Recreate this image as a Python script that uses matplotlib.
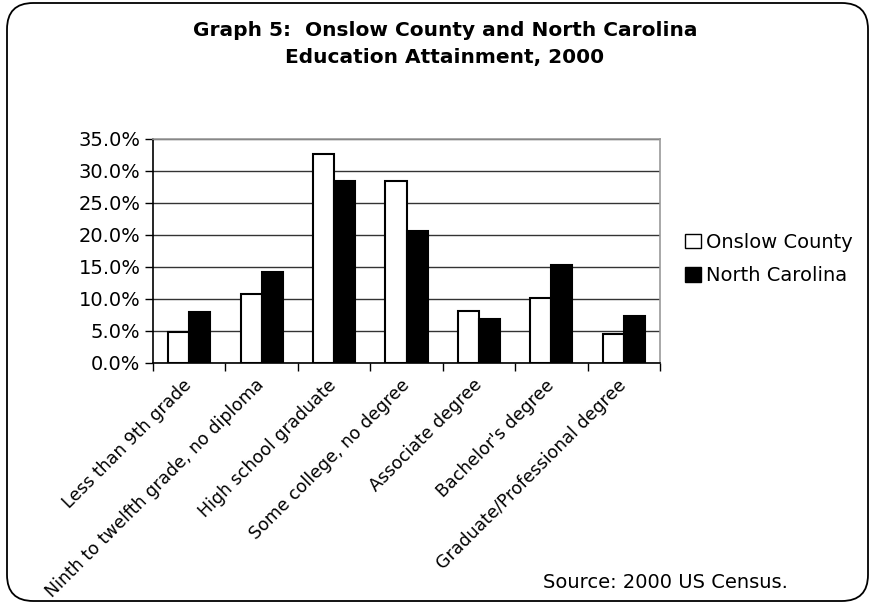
import numpy as np
import matplotlib
matplotlib.use("Agg")
import matplotlib.pyplot as plt
import matplotlib.transforms as mtransforms
from matplotlib.patches import FancyBboxPatch, Patch
from matplotlib.ticker import PercentFormatter, FixedLocator

categories = ["Less than 9th grade", "Ninth to twelfth grade, no diploma",
              "High school graduate", "Some college, no degree",
              "Associate degree", "Bachelor's degree",
              "Graduate/Professional degree"]
onslow = [4.8, 10.8, 32.7, 28.5, 8.2, 10.2, 4.5]
nc = [8.0, 14.2, 28.5, 20.6, 6.8, 15.3, 7.4]

plt.rcParams['font.family'] = ['DejaVu Sans']

fig = plt.figure(figsize=(8.73, 6.05), dpi=100)
ax = fig.add_axes([153 / 873, 1 - 363 / 605, 507 / 873, 224 / 605])

# outer rounded frame
frame = FancyBboxPatch((7 / 873, 4 / 605), 861 / 873, 598 / 605,
                       boxstyle="round,pad=0,rounding_size=0.03",
                       transform=fig.transFigure, fill=False,
                       edgecolor='black', linewidth=1.3, zorder=0,
                       mutation_aspect=873 / 605)
fig.patches.append(frame)

x = np.arange(len(categories))
w = 0.29
ax.bar(x - w / 2, onslow, w, color='white', edgecolor='black', linewidth=1.5, zorder=3)
ax.bar(x + w / 2, nc, w, color='black', edgecolor='black', linewidth=1.5, zorder=3)

ax.set_xlim(-0.5, len(categories) - 0.5)
ax.set_ylim(0, 35)
ax.set_yticks(np.arange(0, 36, 5))
ax.yaxis.set_major_formatter(PercentFormatter(decimals=1))
ax.yaxis.grid(True, color='#333333', linewidth=1)
ax.set_axisbelow(True)

ax.set_xticks(x)
ax.set_xticklabels(categories, rotation=45, ha='right', va='center',
                   rotation_mode='anchor', fontsize=12.5)
shift = mtransforms.ScaledTranslation(-6 / 100, -2 / 100, fig.dpi_scale_trans)
for lbl in ax.get_xticklabels():
    lbl.set_transform(lbl.get_transform() + shift)
ax.xaxis.set_minor_locator(FixedLocator(np.arange(-0.5, len(categories), 1)))
ax.tick_params(axis='x', which='major', length=0, pad=14)
ax.tick_params(axis='x', which='minor', length=6, width=1, color='black')
ax.tick_params(axis='y', length=6, width=1, labelsize=14, pad=3)

for s in ['top', 'right']:
    ax.spines[s].set_color('#999999')
    ax.spines[s].set_linewidth(1.2)
for s in ['left', 'bottom']:
    ax.spines[s].set_color('black')
    ax.spines[s].set_linewidth(1.2)

fig.text(445 / 873, 1 - 44 / 605, "Graph 5:  Onslow County and North Carolina\nEducation Attainment, 2000",
         ha='center', va='center', fontsize=14.5, fontweight='bold', linespacing=1.6)

handles = [Patch(facecolor='white', edgecolor='black', linewidth=1),
           Patch(facecolor='black', edgecolor='black', linewidth=1)]
fig.legend(handles, ["Onslow County", "North Carolina"], loc='center left',
           bbox_to_anchor=(685 / 873, 1 - 259 / 605), frameon=False, fontsize=14,
           handlelength=0.8, handleheight=0.8, handletextpad=0.3, labelspacing=0.75,
           borderaxespad=0, borderpad=0)

fig.text(665 / 873, 1 - 583 / 605, "Source: 2000 US Census.", ha='center', va='center', fontsize=14)

fig.savefig("out.png", dpi=100)
